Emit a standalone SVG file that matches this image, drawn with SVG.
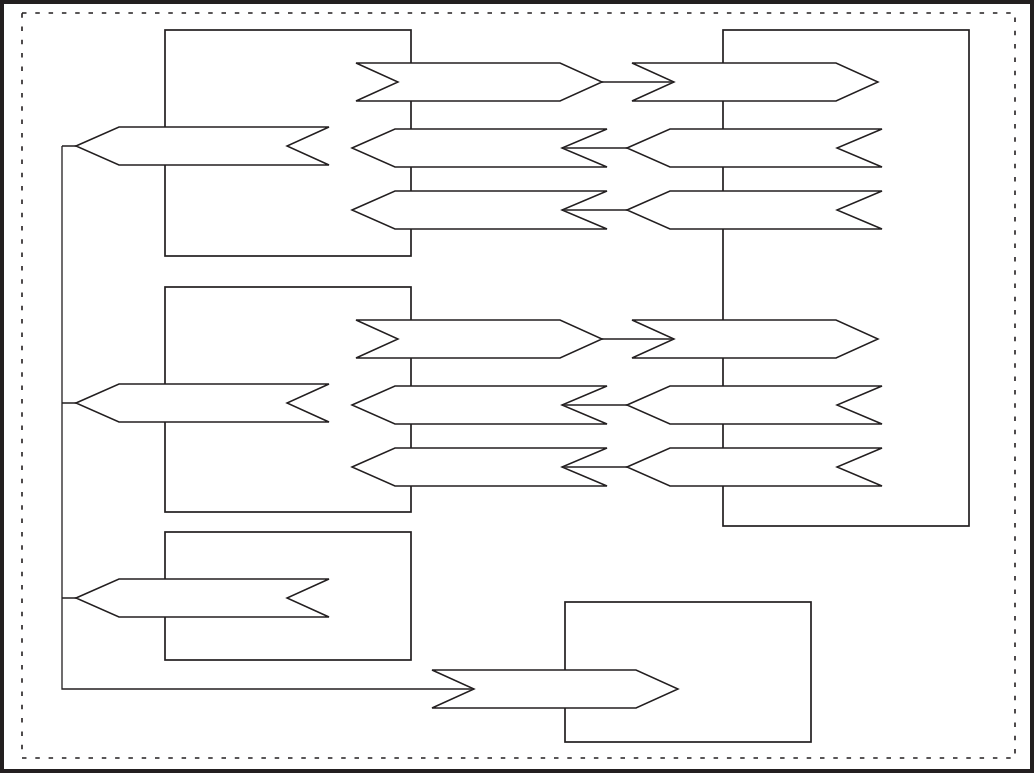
<svg xmlns="http://www.w3.org/2000/svg" xmlns:xlink="http://www.w3.org/1999/xlink" width="1034" height="773" viewBox="0 0 1034 773">
<style>
.frame{fill:none;stroke:#231f20;stroke-width:4}
.dash{fill:none;stroke:#231f20;stroke-width:1.6;stroke-dasharray:4.5 8.8}
.box{fill:none;stroke:#231f20;stroke-width:1.7}
.tag{fill:#fff;stroke:#231f20;stroke-width:1.5;stroke-linejoin:miter}
.conn{fill:none;stroke:#231f20;stroke-width:1.3}
</style>
<defs>
<polygon id="tagL" class="tag" points="0,0 43,-19 255,-19 210,0 255,19 43,19"/>
<polygon id="tagLs" class="tag" points="0,0 43,-19 253,-19 211,0 253,19 43,19"/>
<polygon id="tagR" class="tag" points="0,-19 42,0 0,19 204,19 246,0 204,-19"/>
</defs>
<rect width="1034" height="773" fill="#fff"/>
<rect class="frame" x="2" y="2" width="1030" height="769"/>
<rect class="dash" x="22" y="13" width="993" height="745"/>
<g id="box1"><rect class="box" x="165" y="30" width="246" height="226"/></g>
<g id="box2"><rect class="box" x="165" y="287" width="246" height="225"/></g>
<g id="box3"><rect class="box" x="165" y="532" width="246" height="128"/></g>
<g id="box4"><rect class="box" x="723" y="30" width="246" height="496"/></g>
<g id="box5"><rect class="box" x="565" y="602" width="246" height="140"/></g>
<g id="connectors">
<path class="conn" d="M62,146 V689 H473"/>
<path class="conn" d="M62,146 H76 M62,403 H76 M62,598 H76"/>
<path class="conn" d="M602,82 H673 M562,148 H627 M562,210 H627"/>
<path class="conn" d="M602,339 H673 M562,405 H627 M562,467 H627"/>
</g>
<g id="tag-l1"><use xlink:href="#tagLs" x="76" y="146"/></g>
<g id="tag-l2"><use xlink:href="#tagLs" x="76" y="403"/></g>
<g id="tag-l3"><use xlink:href="#tagLs" x="76" y="598"/></g>
<g id="tag-m1"><use xlink:href="#tagR" x="356" y="82"/></g>
<g id="tag-m2"><use xlink:href="#tagL" x="352" y="148"/></g>
<g id="tag-m3"><use xlink:href="#tagL" x="352" y="210"/></g>
<g id="tag-m4"><use xlink:href="#tagR" x="356" y="339"/></g>
<g id="tag-m5"><use xlink:href="#tagL" x="352" y="405"/></g>
<g id="tag-m6"><use xlink:href="#tagL" x="352" y="467"/></g>
<g id="tag-r1"><use xlink:href="#tagR" x="632" y="82"/></g>
<g id="tag-r2"><use xlink:href="#tagL" x="627" y="148"/></g>
<g id="tag-r3"><use xlink:href="#tagL" x="627" y="210"/></g>
<g id="tag-r4"><use xlink:href="#tagR" x="632" y="339"/></g>
<g id="tag-r5"><use xlink:href="#tagL" x="627" y="405"/></g>
<g id="tag-r6"><use xlink:href="#tagL" x="627" y="467"/></g>
<g id="tag-b"><use xlink:href="#tagR" x="432" y="689"/></g>
</svg>
